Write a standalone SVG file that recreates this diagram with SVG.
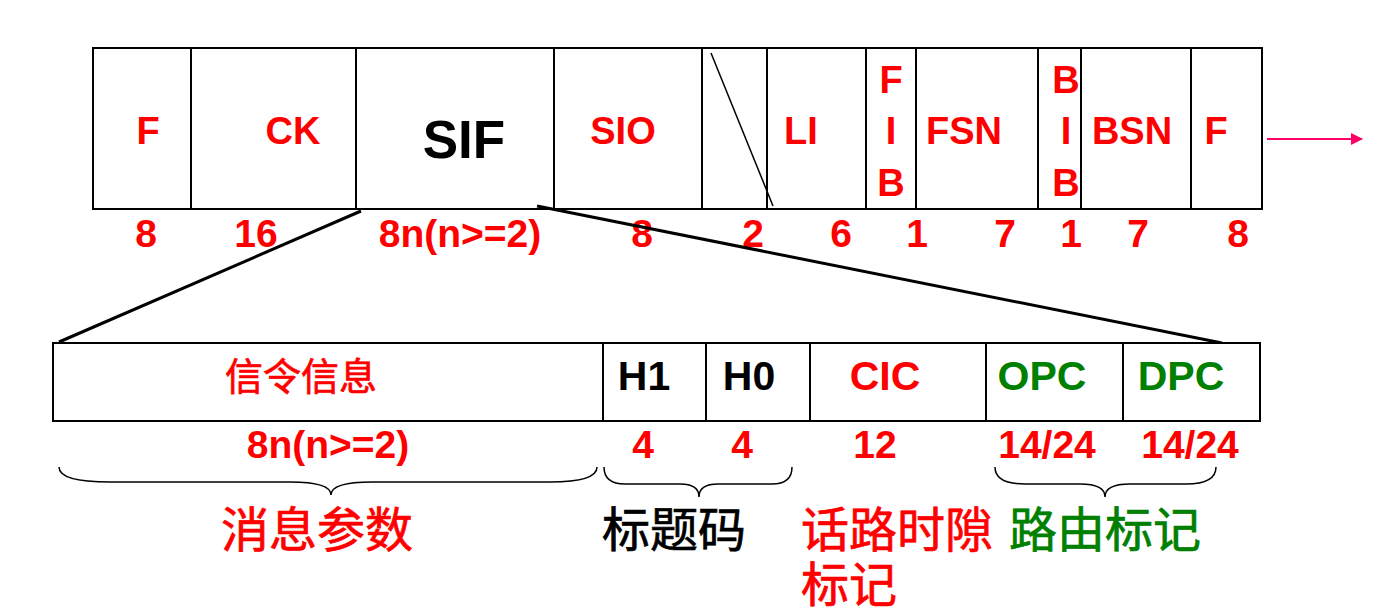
<svg xmlns="http://www.w3.org/2000/svg" width="1383" height="614" viewBox="0 0 1383 614">
<style>
.box{fill:#fff;stroke:#000;stroke-width:2}
.lbl{font-family:"Liberation Sans",Arial,sans-serif;font-weight:bold;text-anchor:middle}
.r{fill:#ff0000}
.k{fill:#000}
.g{fill:#008000}
.top{font-size:38px}
.num{font-size:39px}
.mid{font-size:41px}
.cjk{font-family:"Liberation Sans","Noto Sans CJK SC",sans-serif;font-weight:normal;stroke-width:0.7}
.cjk.r{stroke:#ff0000}
.cjk.k{stroke:#000}
.cjk.g{stroke:#008000}
.big{font-size:48px}
.left{text-anchor:start}
.brace{fill:none;stroke:#000;stroke-width:1.5}
</style>
<defs>
<marker id="ah" markerWidth="12" markerHeight="12" refX="11" refY="6" orient="auto" markerUnits="userSpaceOnUse">
<path d="M0,0 L12,6 L0,12 Z" fill="#ff0066"/>
</marker>
</defs>
<rect width="1383" height="614" fill="#fff"/>
<g id="top-frame">
<rect class="box" x="93" y="48" width="1169" height="161"/>
<g id="f1"><line x1="191" y1="48" x2="191" y2="209" stroke="#000" stroke-width="2"/><text class="lbl top r" x="148" y="144">F</text></g>
<g id="ck"><line x1="356" y1="48" x2="356" y2="209" stroke="#000" stroke-width="2"/><text class="lbl top r" x="293" y="144">CK</text></g>
<g id="sif"><line x1="554" y1="48" x2="554" y2="209" stroke="#000" stroke-width="2"/><text class="lbl k" style="font-size:53px" x="464" y="158">SIF</text></g>
<g id="sio"><line x1="702" y1="48" x2="702" y2="209" stroke="#000" stroke-width="2"/><text class="lbl top r" x="623" y="144">SIO</text></g>
<g id="spare"><line x1="767" y1="48" x2="767" y2="209" stroke="#000" stroke-width="2"/><line x1="711" y1="53" x2="773" y2="206" stroke="#000" stroke-width="1.5"/></g>
<g id="li"><line x1="866" y1="48" x2="866" y2="209" stroke="#000" stroke-width="2"/><text class="lbl top r" x="801" y="144">LI</text></g>
<g id="fib"><line x1="916" y1="48" x2="916" y2="209" stroke="#000" stroke-width="2"/><text class="lbl top r" x="891" y="93">F</text><text class="lbl top r" x="891" y="144">I</text><text class="lbl top r" x="891" y="196">B</text></g>
<g id="fsn"><line x1="1038" y1="48" x2="1038" y2="209" stroke="#000" stroke-width="2"/><text class="lbl top r" x="964" y="144">FSN</text></g>
<g id="bib"><line x1="1081" y1="48" x2="1081" y2="209" stroke="#000" stroke-width="2"/><text class="lbl top r" x="1066" y="93">B</text><text class="lbl top r" x="1066" y="144">I</text><text class="lbl top r" x="1066" y="196">B</text></g>
<g id="bsn"><line x1="1191" y1="48" x2="1191" y2="209" stroke="#000" stroke-width="2"/><text class="lbl top r" x="1132" y="144">BSN</text></g>
<g id="f2"><text class="lbl top r" x="1216" y="144">F</text></g>
</g>
<g id="top-numbers">
<text class="lbl num r" x="146" y="247">8</text>
<text class="lbl num r" x="256" y="247">16</text>
<text class="lbl num r" x="460" y="247">8n(n&gt;=2)</text>
<text class="lbl num r" x="642" y="247">8</text>
<text class="lbl num r" x="753" y="247">2</text>
<text class="lbl num r" x="841" y="247">6</text>
<text class="lbl num r" x="917" y="247">1</text>
<text class="lbl num r" x="1005" y="247">7</text>
<text class="lbl num r" x="1071" y="247">1</text>
<text class="lbl num r" x="1138" y="247">7</text>
<text class="lbl num r" x="1238" y="247">8</text>
</g>
<g id="connectors">
<line x1="1267" y1="139" x2="1362" y2="139" stroke="#ff0066" stroke-width="2" marker-end="url(#ah)"/>
<line x1="361" y1="211" x2="59" y2="342" stroke="#000" stroke-width="3"/>
<line x1="537" y1="206" x2="1222" y2="343" stroke="#000" stroke-width="3"/>
</g>
<g id="bottom-frame">
<rect class="box" x="53" y="343" width="1207" height="78"/>
<g id="sig"><text class="lbl cjk r" style="font-size:38px" x="301" y="390">信令信息</text></g>
<g id="h1"><line x1="603" y1="343" x2="603" y2="421" stroke="#000" stroke-width="2"/><text class="lbl mid k" x="644" y="390">H1</text></g>
<g id="h0"><line x1="706" y1="343" x2="706" y2="421" stroke="#000" stroke-width="2"/><text class="lbl mid k" x="749" y="390">H0</text></g>
<g id="cic"><line x1="810" y1="343" x2="810" y2="421" stroke="#000" stroke-width="2"/><text class="lbl mid r" x="885" y="390">CIC</text></g>
<g id="opc"><line x1="986" y1="343" x2="986" y2="421" stroke="#000" stroke-width="2"/><text class="lbl mid g" x="1042" y="390">OPC</text></g>
<g id="dpc"><line x1="1123" y1="343" x2="1123" y2="421" stroke="#000" stroke-width="2"/><text class="lbl mid g" x="1181" y="390">DPC</text></g>
</g>
<g id="bottom-numbers">
<text class="lbl num r" x="328" y="458">8n(n&gt;=2)</text>
<text class="lbl num r" x="643" y="458">4</text>
<text class="lbl num r" x="742" y="458">4</text>
<text class="lbl num r" x="875" y="458">12</text>
<text class="lbl num r" x="1047" y="458">14/24</text>
<text class="lbl num r" x="1190" y="458">14/24</text>
</g>
<g id="braces">
<path class="brace" d="M59,467 Q59,482 110,482 L290,482 Q331,482 331,495 Q331,482 372,482 L550,482 Q597,482 597,467"/>
<path class="brace" d="M604,467 Q604,484 625,484 L680,484 Q699,484 699,497 Q699,484 718,484 L772,484 Q792,484 792,467"/>
<path class="brace" d="M995,467 Q995,484 1025,484 L1080,484 Q1105,484 1105,497 Q1105,484 1130,484 L1186,484 Q1216,484 1216,467"/>
</g>
<g id="groups">
<text class="lbl cjk big r" x="317" y="547">消息参数</text>
<text class="lbl cjk big k" x="674" y="547">标题码</text>
<text class="cjk big r left" x="801" y="547">话路时隙</text>
<text class="cjk big r left" x="801" y="602">标记</text>
<text class="lbl cjk big g" x="1105" y="547">路由标记</text>
</g>
</svg>
